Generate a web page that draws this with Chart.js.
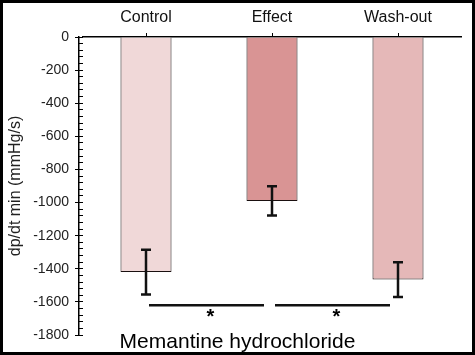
<!DOCTYPE html>
<html>
<head>
<meta charset="utf-8">
<script src="https://cdn.jsdelivr.net/npm/chart.js@4"></script>
<style>
  html, body { margin: 0; padding: 0; background: #fff; }
  #wrap { width: 475px; height: 355px; box-sizing: border-box; border: 3px solid #000; background: #fff; position: relative; }
  #c { display: block; }
</style>
</head>
<body>
<div id="wrap"><canvas id="c"></canvas></div>
<script>
const categories = ['Control', 'Effect', 'Wash-out'];
const values = [-1420, -990, -1465];
const errors = [135, 88, 105];
const barColors = ['#F0D8D8', '#D99494', '#E5B8B8'];
const yTicksMajor = 200;
const yTicksMinor = 40;
const yMin = -1800;
const yMax = 0;
const yTitle = 'dp/dt min (mmHg/s)';
const xTitle = 'Memantine hydrochloride';
const sigPairs = [[0, 1], [1, 2]];
const sigLevel = -1620;
const sigMark = '*';

const FONT = '"Liberation Sans", Arial, sans-serif';

const extras = {
  id: 'extras',
  afterDatasetsDraw(chart) {
    const ctx = chart.ctx;
    const xs = chart.scales.x, ys = chart.scales.y;
    ctx.save();
    ctx.strokeStyle = '#111';
    ctx.lineWidth = 2.5;
    ctx.lineCap = 'butt';
    values.forEach((v, i) => {
      const x = xs.getPixelForValue(i);
      const yt = ys.getPixelForValue(v + errors[i]);
      const yb = ys.getPixelForValue(v - errors[i]);
      ctx.beginPath();
      ctx.moveTo(x, yt); ctx.lineTo(x, yb);
      ctx.moveTo(x - 5, yt); ctx.lineTo(x + 5, yt);
      ctx.moveTo(x - 5, yb); ctx.lineTo(x + 5, yb);
      ctx.stroke();
    });
    const sy = ys.getPixelForValue(sigLevel);
    ctx.fillStyle = '#000';
    ctx.font = 'bold 20px ' + FONT;
    ctx.textAlign = 'center';
    ctx.textBaseline = 'alphabetic';
    sigPairs.forEach(([a, b]) => {
      const x1 = xs.getPixelForValue(a) + 3;
      const x2 = xs.getPixelForValue(b) - 8;
      ctx.beginPath();
      ctx.moveTo(x1, sy); ctx.lineTo(x2, sy);
      ctx.stroke();
      ctx.fillText(sigMark, (x1 + x2) / 2 + 4, sy + 18);
    });
    ctx.font = '21px ' + FONT;
    ctx.fillStyle = '#000';
    ctx.fillText(xTitle, chart.width / 2, chart.height - 4.5);
    ctx.restore();
  }
};

new Chart(document.getElementById('c'), {
  type: 'bar',
  data: {
    labels: categories,
    datasets: [{
      data: values,
      backgroundColor: barColors,
      borderColor: '#1a1010',
      borderWidth: 1,
      barPercentage: 0.405,
      categoryPercentage: 1,
      xAxisID: 'x',
      yAxisID: 'y'
    }]
  },
  options: {
    responsive: true,
    maintainAspectRatio: false,
    animation: false,
    layout: { padding: { left: 0, top: 0, right: 11, bottom: 17 } },
    plugins: { legend: { display: false }, tooltip: { enabled: false } },
    scales: {
      x: {
        type: 'category',
        position: 'top',
        offset: true,
        grid: { offset: false, drawOnChartArea: false, tickLength: 4, color: '#000' },
        border: { color: '#000', width: 1.5 },
        ticks: { font: { family: FONT, size: 16 }, color: '#111', padding: 6, maxRotation: 0 },
        afterFit(s) { s.height = 34; }
      },
      y: {
        type: 'linear',
        position: 'left',
        weight: 1,
        min: yMin, max: yMax,
        ticks: { stepSize: yTicksMajor, font: { family: FONT, size: 14 }, color: '#222', padding: 6,
                 callback: (v) => String(v) },
        grid: { drawOnChartArea: false, tickLength: 4, color: '#000' },
        border: { color: '#000', width: 1.5 },
        title: { display: true, text: yTitle, font: { family: FONT, size: 16 }, color: '#222', padding: { top: 3, bottom: 0 } },
        afterFit(s) { s.width = 76; }
      },
      yMinor: {
        type: 'linear',
        display: true,
        position: 'left',
        weight: 0,
        min: yMin, max: yMax,
        ticks: { display: true, stepSize: yTicksMinor, maxTicksLimit: 100, autoSkip: false,
                 callback: () => '', font: { size: 1 }, padding: 0 },
        grid: { drawOnChartArea: false, tickLength: 4, color: '#000' },
        border: { display: false },
        afterFit(s) { s.width = 4; }
      }
    }
  },
  plugins: [extras]
});
</script>
</body>
</html>
